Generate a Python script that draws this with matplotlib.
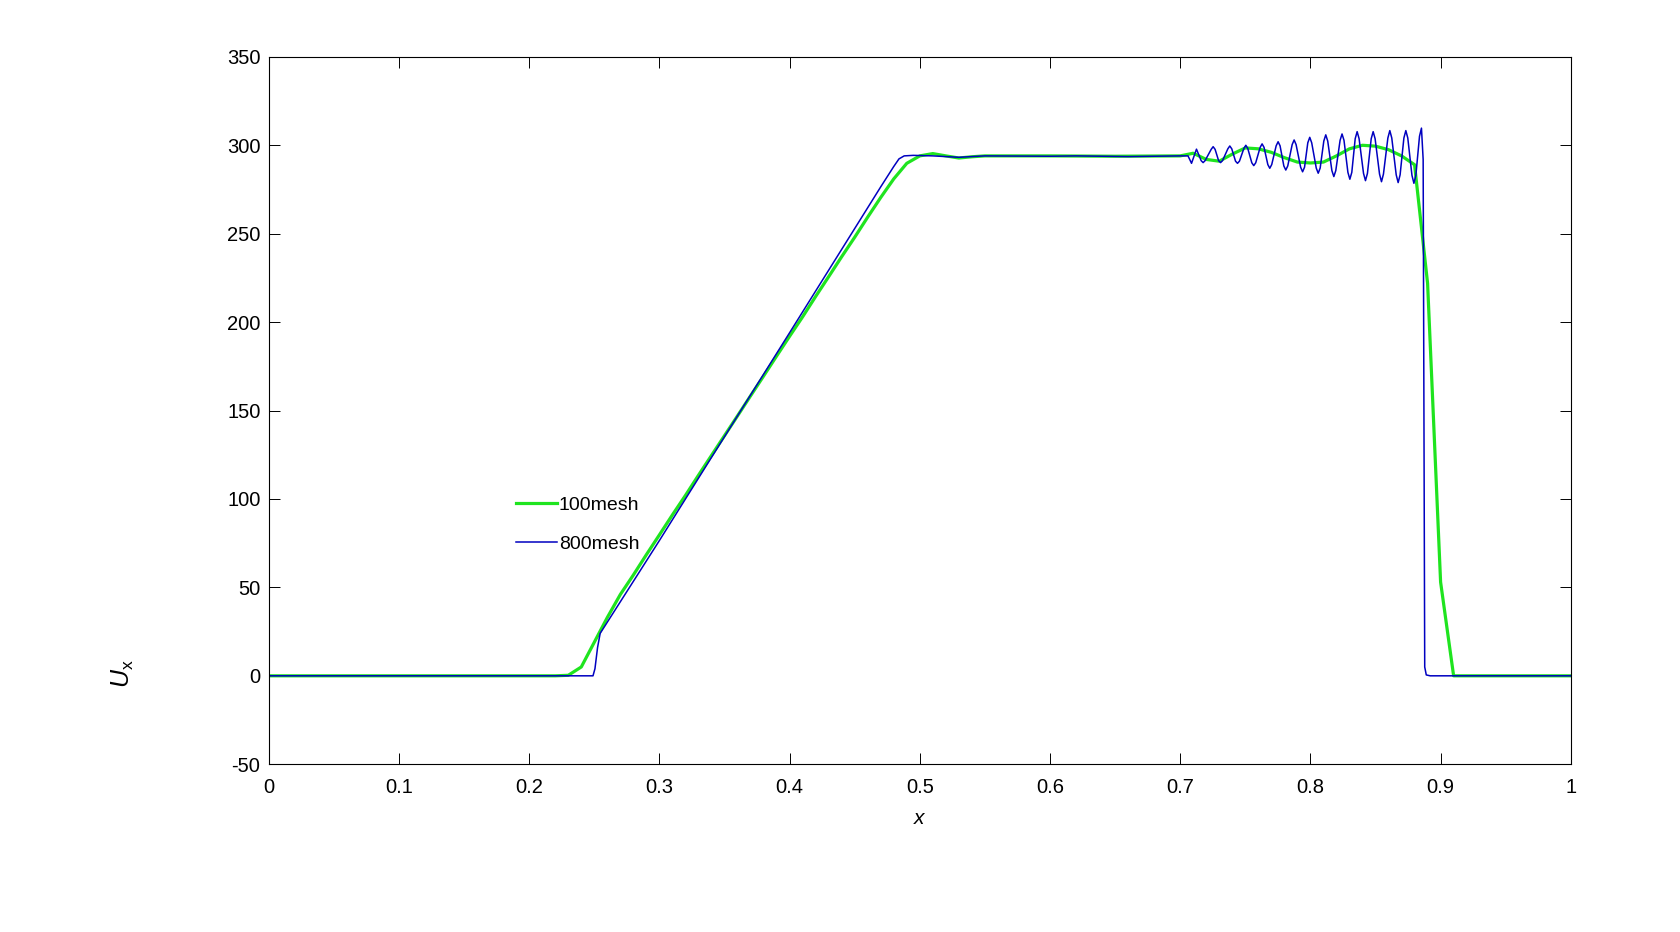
import numpy as np
import matplotlib
matplotlib.use("Agg")
import matplotlib.pyplot as plt

plt.rcParams['font.family'] = ['Liberation Sans', 'DejaVu Sans']
plt.rcParams['mathtext.fontset'] = 'custom'
plt.rcParams['mathtext.rm'] = 'Liberation Sans'
plt.rcParams['mathtext.it'] = 'Liberation Sans:italic'
plt.rcParams['axes.unicode_minus'] = False

# 100 mesh solution (read at mesh nodes)
x100 = [0.0, 0.22, 0.23, 0.24, 0.25, 0.26, 0.27, 0.28, 0.29, 0.30, 0.31, 0.32,
        0.33, 0.34, 0.35, 0.36, 0.37, 0.38, 0.39, 0.40, 0.41, 0.42, 0.43, 0.44,
        0.45, 0.46, 0.47, 0.48, 0.49, 0.50, 0.51, 0.52, 0.53, 0.54, 0.55, 0.60,
        0.65, 0.70, 0.71, 0.72, 0.73, 0.74, 0.75, 0.76, 0.77, 0.78, 0.79, 0.80,
        0.81, 0.82, 0.83, 0.84, 0.85, 0.86, 0.87, 0.88, 0.89, 0.90, 0.91, 0.92, 1.0]
u100 = [0, 0, 0.3, 5, 19, 33, 46, 57, 68.5, 79.7, 91, 102, 113.4, 124.6, 135.8,
        147, 158.3, 169.5, 180.8, 192, 203, 214.5, 225.7, 237, 248, 259.4, 270.5,
        281, 289.8, 294, 295.3, 294, 292.8, 293.5, 294, 294, 293.8, 294, 295.5,
        292, 291, 295, 298.5, 298, 296, 293, 290.5, 290, 290.5, 294, 298, 300,
        299.5, 297.5, 294, 289, 222, 53, 0, 0, 0]

# 800 mesh solution
# left state, rarefaction and plateau
x800_a = [0.0, 0.249, 0.2505, 0.2525, 0.2545, 0.30, 0.40, 0.47, 0.48, 0.484,
          0.488, 0.495, 0.51, 0.53, 0.55, 0.60, 0.62, 0.66, 0.70, 0.706,
          0.7087, 0.7125]
u800_a = [0, 0, 4, 16, 24, 76.5, 194, 276.5, 288, 292.3, 294, 294.3, 294, 293.2,
          294, 293.8, 294, 293.6, 294, 294, 289.8, 297.8]
# oscillations behind the contact (extrema and their shoulders)
x800_b = [0.7161, 0.7176, 0.7191, 0.7238, 0.7253, 0.7268, 0.7295, 0.731, 0.7325,
          0.7366, 0.7381, 0.7396, 0.7425, 0.744, 0.7455, 0.7489, 0.7504, 0.7519,
          0.755, 0.7565, 0.758, 0.7614, 0.7629, 0.7644, 0.7673, 0.7688, 0.7703,
          0.7737, 0.7752, 0.7767, 0.7796, 0.7811, 0.7826, 0.786, 0.7875, 0.789,
          0.7925, 0.794, 0.7955, 0.798, 0.7995, 0.801, 0.8045, 0.806, 0.8075,
          0.8103, 0.8118, 0.8133, 0.8165, 0.818, 0.8195, 0.8228, 0.8243, 0.8258,
          0.8288, 0.8303, 0.8318, 0.8344, 0.8359, 0.8374, 0.8408, 0.8423, 0.8438,
          0.8467, 0.8482, 0.8497, 0.8531, 0.8546, 0.8561, 0.8595, 0.861, 0.8625,
          0.8659, 0.8674, 0.8689, 0.8718, 0.8733, 0.8748, 0.878, 0.8795, 0.881,
          0.8838, 0.8853]
u800_b = [291.3, 290.2, 291.3, 297.7, 299.2, 297.7, 291.3, 290.2, 291.3,
          298.0, 299.6, 298.0, 291.0, 289.8, 291.0, 298.2, 300.0, 298.2,
          290.1, 288.5, 290.1, 298.8, 300.8, 298.8, 289.1, 287.0, 289.1,
          299.7, 302.0, 299.7, 288.3, 286.0, 288.3, 300.4, 303.0, 300.4,
          287.6, 285.0, 287.6, 301.4, 304.5, 301.4, 287.1, 284.2, 287.1,
          302.4, 305.9, 302.4, 285.7, 282.3, 285.7, 302.8, 306.4, 302.8,
          284.7, 280.8, 284.7, 303.7, 307.7, 303.7, 284.1, 280.0, 284.1,
          303.7, 307.7, 303.7, 283.7, 279.4, 283.7, 304.1, 308.3, 304.1,
          283.3, 278.9, 283.3, 304.1, 308.3, 304.1, 283.0, 278.5, 283.0,
          305.1, 309.7]
# shock and right state
x800_c = [0.8866, 0.8878, 0.889, 0.892, 1.0]
u800_c = [292, 5, 0.5, 0, 0]

x800 = x800_a + x800_b + x800_c
u800 = u800_a + u800_b + u800_c

xticks = [0, 0.1, 0.2, 0.3, 0.4, 0.5, 0.6, 0.7, 0.8, 0.9, 1]
xticklabels = ['0', '0.1', '0.2', '0.3', '0.4', '0.5', '0.6', '0.7', '0.8', '0.9', '1']
yticks = [-50, 0, 50, 100, 150, 200, 250, 300, 350]

fig = plt.figure(figsize=(16.8, 9.32), dpi=100)
ax = fig.add_axes([0.160, 0.180, 0.775, 0.759])

ax.plot(x100, u100, color='#1fe41f', lw=2.3, label='100mesh')
ax.plot(x800, u800, color='#0000c0', lw=1.1, label='800mesh')

ax.set_xlim(0, 1)
ax.set_ylim(-50, 350)
ax.set_xticks(xticks)
ax.set_xticklabels(xticklabels)
ax.set_yticks(yticks)
ax.tick_params(direction='in', length=8, width=0.7, labelsize=14.5,
               top=True, right=True)
ax.tick_params(axis='x', pad=10)
ax.tick_params(axis='y', pad=6)
for s in ax.spines.values():
    s.set_linewidth(0.8)

ax.set_xlabel(r'$x$', fontsize=15)
ax.xaxis.set_label_coords(0.5, -0.063)
ax.set_ylabel(r'$U_\mathrm{x}$', fontsize=18)
ax.yaxis.set_label_coords(-0.102, 0.128)

ax.legend(loc='upper left', bbox_to_anchor=(0.19, 0.379), frameon=False,
          fontsize=14, handlelength=2.1, handletextpad=0.1, labelspacing=1.12,
          borderpad=0, borderaxespad=0)

fig.savefig('out.png', dpi=100)
